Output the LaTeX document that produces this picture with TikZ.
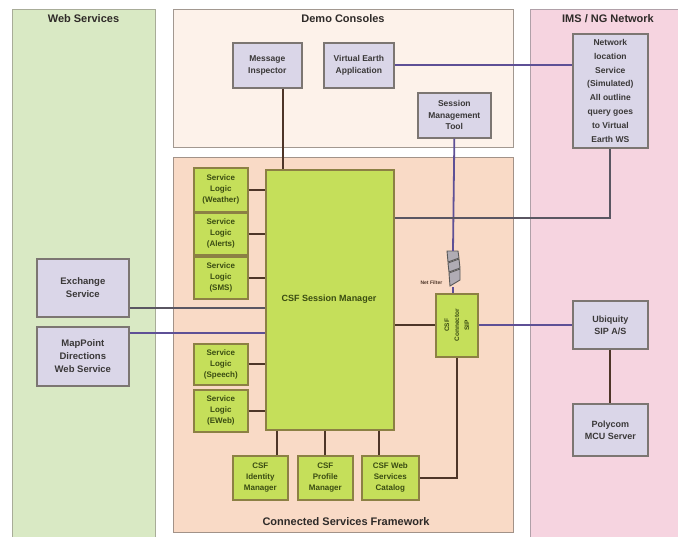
\documentclass[tikz,border=0pt]{standalone}
\usepackage{fontspec}
\setmainfont{Liberation Sans}
\definecolor{wsfill}{HTML}{D9E9C4}
\definecolor{wsline}{HTML}{A8AC98}
\definecolor{dcfill}{HTML}{FDF2EA}
\definecolor{dcline}{HTML}{A29890}
\definecolor{csffill}{HTML}{F9DAC6}
\definecolor{csfline}{HTML}{A29288}
\definecolor{imsfill}{HTML}{F6D4E0}
\definecolor{imsline}{HTML}{B0A0A8}
\definecolor{gboxfill}{HTML}{DAD6E8}
\definecolor{gboxline}{HTML}{7C7672}
\definecolor{gtext}{HTML}{3A3838}
\definecolor{lboxfill}{HTML}{C5DF5A}
\definecolor{lboxline}{HTML}{8C8044}
\definecolor{ltext}{HTML}{3A4C12}
\definecolor{titletext}{HTML}{2E2A28}
\definecolor{brownline}{HTML}{4E3528}
\definecolor{purpleline}{HTML}{5E5096}
\definecolor{grayline}{HTML}{5A5662}
\definecolor{icongray}{HTML}{B0ACB4}
\tikzset{
  panel/.style={draw=#1, line width=1.3pt, anchor=north west, inner sep=0pt},
  gbox/.style={draw=gboxline, fill=gboxfill, line width=1.7pt, anchor=north west,
    align=center, inner sep=1pt, text=gtext,
    font=\fontsize{8.5}{11.5}\selectfont\bfseries},
  lbox/.style={draw=lboxline, fill=lboxfill, line width=1.7pt, anchor=north west,
    align=center, inner sep=1pt, text=ltext,
    font=\fontsize{8}{11}\selectfont\bfseries},
  paneltitle/.style={text=titletext, font=\fontsize{11}{13}\selectfont\bfseries},
  wire/.style={line width=1.8pt, draw=brownline},
  pwire/.style={line width=1.8pt, draw=purpleline},
  gwire/.style={line width=1.8pt, draw=grayline},
}
\begin{document}
\begin{tikzpicture}[x=1pt,y=-1pt]
\useasboundingbox[fill=white] (0,0) rectangle (678,536);

% ---- background panels ----
\node[panel=wsline, fill=wsfill, minimum width=143pt, minimum height=540pt] (ws) at (12,9) {};
\node[panel=dcline, fill=dcfill, minimum width=340pt, minimum height=138pt] (dc) at (173,9) {};
\node[panel=csfline, fill=csffill, minimum width=340pt, minimum height=375pt] (csf) at (173,157) {};
\node[panel=imsline, fill=imsfill, minimum width=160pt, minimum height=540pt] (ims) at (530,9) {};

\node[paneltitle] (wst) at (83.5,19) {Web Services};
\node[paneltitle] (dct) at (343,19) {Demo Consoles};
\node[paneltitle] (imst) at (608,19) {IMS / NG Network};
\node[paneltitle] (csft) at (346,522) {Connected Services Framework};

% ---- demo consoles ----
\node[gbox, minimum width=69pt, minimum height=45pt] (mi) at (232,42) {Message\\Inspector};
\node[gbox, minimum width=70pt, minimum height=45pt] (ve) at (323,42) {Virtual Earth\\Application};
\node[gbox, minimum width=73pt, minimum height=45pt] (smt) at (417,92) {Session\\Management\\Tool};

% ---- web services ----
\node[gbox, minimum width=92pt, minimum height=58pt,
  font=\fontsize{9.5}{13}\selectfont\bfseries] (ex) at (36,258) {Exchange\\Service};
\node[gbox, minimum width=92pt, minimum height=59pt,
  font=\fontsize{9.5}{13}\selectfont\bfseries] (mp) at (36,326) {MapPoint\\Directions\\Web Service};

% ---- IMS / NG network ----
\node[gbox, minimum width=75pt, minimum height=114pt,
  font=\fontsize{8.5}{13.8}\selectfont\bfseries] (nls) at (572,33)
  {Network\\location\\Service\\(Simulated)\\All outline\\query goes\\to Virtual\\Earth WS};
\node[gbox, minimum width=75pt, minimum height=48pt,
  font=\fontsize{9}{12}\selectfont\bfseries] (ub) at (572,300) {Ubiquity\\SIP A/S};
\node[gbox, minimum width=75pt, minimum height=52pt,
  font=\fontsize{9}{12}\selectfont\bfseries] (poly) at (572,403) {Polycom\\MCU Server};

% ---- connected services framework ----
\node[lbox, minimum width=54pt, minimum height=44pt] (sl1) at (193,167) {Service\\Logic\\(Weather)};
\node[lbox, minimum width=54pt, minimum height=42pt] (sl2) at (193,212) {Service\\Logic\\(Alerts)};
\node[lbox, minimum width=54pt, minimum height=42pt] (sl3) at (193,256) {Service\\Logic\\(SMS)};
\node[lbox, minimum width=54pt, minimum height=41pt] (sl4) at (193,343) {Service\\Logic\\(Speech)};
\node[lbox, minimum width=54pt, minimum height=42pt] (sl5) at (193,389) {Service\\Logic\\(EWeb)};

\node[lbox, minimum width=128pt, minimum height=260pt] (sm) at (265,169) {};
\node[text=ltext, font=\fontsize{9}{11}\selectfont\bfseries] (smt2) at (329,299) {CSF Session Manager};

\node[lbox, minimum width=55pt, minimum height=44pt] (idm) at (232,455) {CSF\\Identity\\Manager};
\node[lbox, minimum width=55pt, minimum height=44pt] (pm) at (297,455) {CSF\\Profile\\Manager};
\node[lbox, minimum width=57pt, minimum height=44pt] (cat) at (361,455) {CSF Web\\Services\\Catalog};

\node[lbox, minimum width=42pt, minimum height=63pt] (sip) at (435,293) {};
\node[text=ltext, rotate=90, align=center, font=\fontsize{6.5}{10}\selectfont\bfseries]
  (siptext) at (sip.center) {CSF\\Connector\\SIP};

% small network icon between the management tool and the connector
\node[inner sep=0pt, minimum width=14pt, minimum height=36pt] (icon) at (453,269) {};
\begin{scope}[line width=0.9pt, draw=gray!70!black, fill=icongray]
  \filldraw (447,251) -- (458,251) -- (459,258) -- (448,262) -- cycle;
  \filldraw (448,263) -- (459,259) -- (460,268) -- (449,272) -- cycle;
  \filldraw (449,273) -- (460,269) -- (460,280) -- (450,286) -- cycle;
\end{scope}
\node[text=brownline, font=\fontsize{5}{6}\selectfont\bfseries, anchor=east]
  (iconlabel) at (icon.west |- 0,283) {Net Filter};

% ---- connectors ----
\coordinate (xmi) at (283,0);
\coordinate (xid) at (277,0);
\coordinate (xpm) at (325,0);
\coordinate (xcat) at (379,0);
\coordinate (ynls) at (0,218);
\coordinate (yex) at (0,308);
\coordinate (ymp) at (0,333);

\draw[wire] (xmi |- mi.south) -- (xmi |- sm.north);
\draw[pwire] (ve.east) -- (ve.east -| nls.west);
\draw[pwire] (smt.south) -- (icon.north);
\draw[pwire] (icon.south) -- (icon.south |- sip.north);
\draw[gwire] (sm.east |- ynls) -| (nls.south);

\draw[gwire] (ex.east |- yex) -- (sm.west |- yex);
\draw[pwire] (mp.east |- ymp) -- (sm.west |- ymp);

\draw[wire] (sl1.east) -- (sl1.east -| sm.west);
\draw[wire] (sl2.east) -- (sl2.east -| sm.west);
\draw[wire] (sl3.east) -- (sl3.east -| sm.west);
\draw[wire] (sl4.east) -- (sl4.east -| sm.west);
\draw[wire] (sl5.east) -- (sl5.east -| sm.west);

\draw[wire] (xid |- sm.south) -- (xid |- idm.north);
\draw[wire] (xpm |- sm.south) -- (xpm |- pm.north);
\draw[wire] (xcat |- sm.south) -- (xcat |- cat.north);
\draw[wire] (cat.east) -| (sip.south);

\draw[wire] (sip.west) -- (sip.west -| sm.east);
\draw[pwire] (sip.east) -- (sip.east -| ub.west);
\draw[wire] (ub.south) -- (poly.north);
\end{tikzpicture}
\end{document}
